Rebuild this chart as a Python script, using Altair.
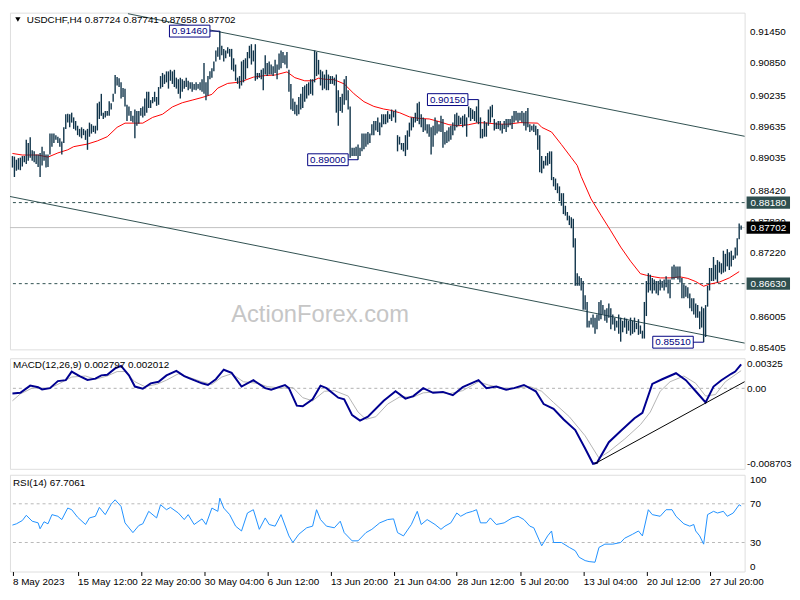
import json
import altair as alt
import pandas as pd

# ---------------- data ----------------
# H4 bars of USDCHF, values in 1/10000 of a franc (8907 -> 0.8907), bar index 0 = 8 May 2023 00:00
bar_high = [
    8907, 8906, 8900, 8903, 8904, 8907, 8907, 8938, 8932, 8943,
    8918, 8916, 8910, 8910, 8913, 8925, 8916, 8910, 8910, 8950,
    8950, 8950, 8947, 8944, 8941, 8935, 8962, 8987, 8988, 8987,
    8990, 8981, 8974, 8965, 8959, 8962, 8959, 8956, 8959, 8971,
    8968, 8965, 8965, 9008, 9011, 9026, 8990, 8993, 8993, 9012,
    9008, 9026, 9062, 9058, 9056, 9048, 9037, 9036, 9005, 9002,
    8993, 8984, 8996, 8993,
    8993, 8999, 9002, 9017, 9030, 9030, 9014, 9020, 9030, 9020,
    9039, 9060, 9066, 9063, 9069, 9069, 9072, 9069, 9072, 9057,
    9054, 9057, 9054, 9051, 9057, 9051, 9048, 9048, 9045, 9048,
    9045, 9048, 9054, 9085, 9048, 9060, 9069, 9075, 9088, 9109,
    9115, 9146, 9118, 9112, 9109, 9115, 9112, 9112, 9094, 9082,
    9057, 9060, 9088, 9091, 9094, 9106, 9118, 9121, 9109, 9121,
    9066, 9066,
    9072, 9075, 9100, 9085, 9088, 9082, 9079, 9091, 9082, 9103,
    9109, 9106, 9100, 9106, 9072, 9045, 9017, 9011, 9005, 9020,
    9026, 9039, 9042, 9045, 9048, 9054, 9054, 9109, 9106, 9091,
    9072, 9069, 9063, 9072, 9063, 9060, 9060, 9057, 9063, 9033,
    9020, 9026, 9054, 9060, 9033, 9002, 8923, 8923, 8925, 8929,
    8923, 8950, 8950, 8950, 8953, 8950, 8968, 8974, 8974, 8981,
    8971, 8987, 8987,
    8987, 8993, 8987, 8996, 8993, 8996, 8947, 8944, 8932, 8932,
    8947, 8956, 8971, 8981, 8981, 8990, 9008, 9011, 8987, 8981,
    8978, 8968, 8968, 8962, 8965, 8981, 8974, 8968, 8984, 8978,
    8953, 8956, 8962, 8965, 8971, 8987, 8990, 8984, 8981, 8984,
    8987, 8981, 9002, 8999, 8996, 8993, 9002, 9015, 8981, 8959,
    8974, 8971, 8996, 9002, 9005, 8978, 8971, 8974, 8974, 8968,
    8974, 8978,
    8978, 8978, 8984, 8993, 8993, 8990, 8990, 8993, 8990, 8993,
    8999, 8968, 8965, 8968, 8965, 8959, 8947, 8907, 8898, 8907,
    8913, 8916, 8916, 8867, 8864, 8855, 8849, 8836, 8836, 8812,
    8800, 8793, 8790, 8787, 8750, 8683, 8677, 8674, 8668, 8641,
    8628, 8592, 8598, 8604, 8598, 8604, 8628, 8631, 8622, 8613,
    8616, 8625, 8616, 8604, 8598, 8592, 8604, 8598, 8592, 8598,
    8596, 8592, 8598,
    8592, 8598, 8588, 8595, 8583, 8573, 8628, 8668, 8683, 8680,
    8674, 8671, 8668, 8668, 8671, 8668, 8671, 8677, 8671, 8671,
    8696, 8699, 8696, 8696, 8696, 8674, 8662, 8659, 8656, 8644,
    8635, 8635, 8625, 8622, 8610, 8619, 8616, 8622, 8659, 8693,
    8693, 8714, 8699, 8708, 8705, 8702, 8726, 8720, 8729, 8723,
    8726, 8717, 8732, 8750, 8778, 8774,
]
bar_low = [
    8885, 8867, 8879, 8881, 8880, 8887, 8895, 8892, 8898, 8904,
    8898, 8895, 8892, 8886, 8867, 8889, 8898, 8885, 8886, 8910,
    8925, 8932, 8938, 8932, 8925, 8910, 8932, 8959, 8971, 8962,
    8971, 8959, 8956, 8947, 8944, 8941, 8947, 8938, 8919, 8944,
    8950, 8953, 8950, 8956, 8978, 8984, 8978, 8981, 8984, 8984,
    8996, 9011, 9026, 9042, 9039, 9017, 9020, 9002, 8974, 8984,
    8974, 8971, 8941, 8965,
    8969, 8984, 8981, 8984, 8990, 8999, 8999, 9008, 9011, 9003,
    9005, 9036, 9039, 9045, 9048, 9036, 9051, 9045, 9039, 9036,
    9026, 9017, 9030, 9036, 9039, 9033, 9036, 9030, 9034, 9033,
    9036, 9033, 9030, 9026, 9014, 9023, 9054, 9057, 9069, 9088,
    9097, 9091, 9100, 9088, 9094, 9103, 9097, 9072, 9069, 9051,
    9045, 9036, 9042, 9048, 9054, 9075, 9094, 9082, 9088, 9051,
    9054, 9057,
    9054, 9033, 9063, 9060, 9063, 9063, 9060, 9066, 9054, 9072,
    9075, 9085, 9082, 9075, 9030, 8996, 8993, 8987, 8984, 8987,
    8996, 8999, 9011, 9017, 9023, 9026, 9023, 9048, 9060, 9063,
    9042, 9033, 9036, 9033, 9033, 9045, 9045, 9042, 8990, 8965,
    8993, 8990, 9005, 9014, 8996, 8904, 8907, 8907, 8907, 8900,
    8907, 8916, 8920, 8925, 8929, 8932, 8947, 8947, 8956, 8953,
    8947, 8962, 8968,
    8968, 8971, 8978, 8974, 8981, 8971, 8916, 8929, 8919, 8916,
    8907, 8919, 8944, 8956, 8962, 8971, 8974, 8968, 8962, 8953,
    8956, 8950, 8944, 8910, 8925, 8947, 8950, 8954, 8953, 8923,
    8929, 8932, 8935, 8938, 8947, 8956, 8962, 8965, 8968, 8962,
    8965, 8944, 8981, 8974, 8978, 8974, 8971, 8968, 8941, 8941,
    8944, 8944, 8965, 8971, 8981, 8956, 8959, 8959, 8956, 8950,
    8959, 8953,
    8962, 8966, 8959, 8971, 8975, 8971, 8975, 8971, 8965, 8956,
    8962, 8953, 8956, 8953, 8947, 8919, 8876, 8874, 8883, 8889,
    8889, 8892, 8861, 8849, 8842, 8836, 8821, 8812, 8796, 8793,
    8784, 8775, 8769, 8732, 8659, 8659, 8659, 8650, 8613, 8613,
    8579, 8579, 8585, 8579, 8567, 8576, 8592, 8595, 8604, 8592,
    8588, 8598, 8576, 8585, 8573, 8579, 8567, 8552, 8570, 8579,
    8567, 8573, 8564,
    8567, 8570, 8576, 8565, 8567, 8558, 8558, 8601, 8646, 8650,
    8644, 8650, 8644, 8641, 8650, 8655, 8650, 8656, 8644, 8635,
    8671, 8671, 8674, 8671, 8665, 8635, 8635, 8638, 8635, 8616,
    8610, 8604, 8598, 8598, 8576, 8579, 8551, 8561, 8619, 8650,
    8668, 8668, 8671, 8665, 8684, 8681, 8684, 8686, 8696, 8689,
    8696, 8708, 8711, 8717, 8748, 8766,
]

# red moving average (bar index, value in 1/10000)
ma_idx = [0, 5, 13, 18, 23, 28, 31, 38, 43, 48, 53, 57, 63, 66, 71, 76, 81, 86, 91, 96,
          101, 104, 109, 114, 117, 122, 128, 133, 139, 143, 148, 152, 155, 158, 163, 168,
          173, 178, 183, 188, 191, 196, 201, 206, 211, 216, 221, 226, 231, 236, 241, 246,
          251, 257, 266, 268, 273, 278, 283, 286, 288, 293, 298, 303, 308, 313, 318, 321,
          325, 328, 333, 338, 342, 346, 350, 353, 358, 363, 368]
ma_val = [8912, 8909, 8909, 8905, 8913, 8919, 8925, 8930, 8936, 8944, 8962, 8970, 8970, 8970,
          8981, 8987, 9001, 9009, 9014, 9019, 9025, 9037, 9046, 9048, 9051, 9058, 9061, 9062,
          9068, 9057, 9051, 9051, 9056, 9054, 9053, 9045, 9026, 9011, 9002, 8997, 8995, 8990,
          8982, 8979, 8978, 8973, 8967, 8965, 8967, 8971, 8970, 8968, 8968, 8971, 8970, 8962,
          8953, 8929, 8904, 8889, 8868, 8825, 8794, 8764, 8733, 8706, 8682, 8679, 8676, 8674,
          8674, 8676, 8673, 8667, 8658, 8662, 8666, 8674, 8686]

# MACD main line and signal line, values in 1/10000
macd_idx = [0, 4, 9, 13, 15, 19, 23, 27, 30, 34, 38, 42, 45, 48, 52, 55, 59, 62, 66, 70,
            74, 78, 83, 87, 90, 96, 99, 103, 107, 111, 116, 122, 128, 131, 138, 140, 144, 147,
            152, 156, 159, 165, 168, 172, 176, 180, 188, 194, 199, 203, 208, 213, 218, 223,
            228, 236, 240, 245, 250, 254, 259, 265, 269, 274, 279, 285, 290, 294, 296, 302,
            308, 315, 319, 324, 329, 336, 341, 346, 351, 355, 359, 364, 366, 369]
macd_val = [-5.6, -4.9, 2.9, 1.2, -1.2, 0.2, 7.8, 8.8, 18.1, 13.2, 9.1, 10.5, 14.0, 14.7,
            21.5, 24.3, 14.0, 1.9, -0.5, 5.4, 7.1, 14.0, 18.8, 13.2, 10.5, 5.4, 3.6, 9.8, 20.1,
            16.7, 1.9, 8.8, 0.2, -1.5, 3.6, 0.2, -18.7, -19.4, -11.8, 2.9, 0.2, -10.1, -11.8,
            -29.0, -34.8, -30.7, -13.5, -3.2, -11.1, -8.4, 0.2, -4.9, -3.9, -7.4, 1.2, 8.8, 0.2,
            1.9, -1.5, 0.2, 3.6, -3.2, -17.0, -22.1, -33.4, -45.1, -65.0, -81.6, -80.5, -58.2,
            -46.1, -32.4, -26.6, 4.7, 9.8, 16.3, 8.8, -3.2, -15.2, 1.9, 8.8, 15.7, 18.1, 26.0]
sig_idx = [0, 4, 10, 19, 24, 30, 37, 42, 48, 53, 57, 62, 67, 73, 78, 84, 89, 96, 101, 106,
           111, 117, 124, 129, 136, 142, 147, 152, 158, 163, 170, 175, 179, 184, 190, 196,
           203, 208, 214, 221, 228, 236, 241, 248, 254, 262, 268, 274, 282, 290, 297, 302,
           310, 318, 323, 328, 333, 340, 346, 351, 356, 361, 366, 369]
sig_val = [-13.5, -6.0, 0.2, 0.2, 5.4, 12.2, 13.3, 9.8, 13.3, 18.1, 18.1, 7.1, 1.9, 4.3, 8.8,
           15.7, 12.2, 7.1, 4.3, 12.2, 15.7, 7.1, 5.4, 1.9, 0.2, 0.9, -10.1, -13.5, -3.2, -2.5,
           -8.4, -25.6, -33.5, -30.7, -17.0, -9.4, -9.4, -4.9, -3.9, -6.0, -2.5, 7.1, 3.6, 0.2,
           0.2, 1.9, -3.2, -15.3, -30.7, -51.3, -75.4, -68.5, -54.8, -39.3, -25.6, -3.2, 7.1,
           13.3, 5.4, -8.4, -6.7, 7.1, 14.6, 19.1]

# RSI(14)
rsi_idx = [0, 2, 5, 7, 10, 13, 14, 16, 18, 20, 23, 25, 28, 30, 33, 37, 39, 42, 44, 47,
           50, 52, 55, 57, 61, 64, 66, 69, 73, 75, 78, 80, 84, 87, 89, 92, 96, 98, 101, 104,
           105, 107, 110, 113, 116, 119, 122, 125, 128, 130, 133, 136, 140, 142, 145, 149,
           152, 154, 156, 159, 163, 166, 168, 172, 175, 179, 182, 186, 190, 193, 195, 198,
           202, 205, 207, 210, 214, 217, 219, 222, 225, 227, 230, 233, 235, 237, 240, 242,
           245, 249, 253, 256, 259, 262, 264, 268, 271, 273, 274, 278, 282, 285, 287, 290,
           292, 295, 297, 300, 304, 308, 310, 314, 317, 319, 322, 324, 328, 331, 334, 336,
           340, 343, 345, 346, 348, 350, 352, 355, 357, 360, 362, 365, 368, 369]
rsi_val = [48.0, 49.3, 52.7, 58.1, 52.0, 50.3, 44.2, 51.4, 49.3, 58.8, 57.1, 53.7, 65.6, 63.9,
           56.1, 48.6, 55.4, 57.1, 66.3, 58.8, 69.7, 74.1, 67.3, 50.3, 40.2, 47.6, 49.3, 62.2,
           55.4, 69.0, 63.9, 66.3, 60.5, 53.7, 58.8, 48.6, 54.4, 48.6, 65.6, 62.2, 75.8, 65.6,
           58.8, 46.9, 41.9, 60.5, 63.9, 43.6, 55.4, 48.6, 46.9, 58.8, 36.8, 30.0, 38.5, 45.2,
           46.9, 63.9, 53.7, 46.9, 45.2, 52.0, 40.2, 31.7, 31.7, 40.2, 43.6, 50.3, 53.7, 54.4,
           40.2, 36.8, 48.6, 62.2, 48.6, 53.7, 48.6, 43.6, 46.9, 50.3, 60.5, 57.1, 60.5, 62.2,
           63.9, 50.3, 50.3, 55.4, 48.6, 50.3, 55.4, 57.1, 53.7, 46.9, 45.2, 26.6, 36.8, 41.9,
           30.0, 30.0, 24.9, 21.5, 14.7, 11.3, 10.3, 9.6, 24.9, 28.3, 28.3, 30.0, 34.4, 38.5,
           41.9, 36.8, 63.9, 58.8, 57.1, 63.9, 63.9, 57.1, 49.3, 46.9, 48.6, 41.9, 36.8, 28.3,
           58.8, 62.2, 60.5, 62.2, 57.1, 60.5, 69.0, 67.7]

# channel lines (start index, start price, end index, end price)
chan_i1 = [58.5, -1.25]
chan_p1 = [0.91793, 0.88297]
chan_i2 = [375.5, 375.5]
chan_p2 = [0.89413, 0.85457]
# MACD support line
macd_tl_i = [294.8, 375.5]
macd_tl_v = [-81.6, 12.7]

level_prices = [0.88180, 0.86630]
bid_price = 0.87702

ann_label = ["0.91460", "0.89000", "0.90150", "0.85510"]
ann_price = [0.91460, 0.89000, 0.90150, 0.85510]
ann_box_idx = [89.75, 159.75, 220.4, 334.5]
ann_bar_idx = [105, 175, 236, 350]

hl_label = ["0.88180", "0.87702", "0.86630"]
hl_price = [0.88180, 0.87702, 0.86630]
hl_bg = ["#2f4f4f", "#000000", "#2f4f4f"]

price_ticks = [0.91450, 0.90850, 0.90235, 0.89635, 0.89035, 0.88420, 0.87820, 0.87220,
               0.86005, 0.85405]
macd_ticks = [0.00325, 0.0, -0.008703]
macd_tick_text = ["0.00325", "0.00", "-0.008703"]
rsi_ticks = [100, 70, 30, 0]

date_idx = [0, 33, 65, 97, 129, 161, 193, 225, 257, 289, 321, 353]
date_text = ["8 May 2023", "15 May 12:00", "22 May 20:00", "30 May 04:00", "6 Jun 12:00",
             "13 Jun 20:00", "21 Jun 04:00", "28 Jun 12:00", "5 Jul 20:00", "13 Jul 04:00",
             "20 Jul 12:00", "27 Jul 20:00"]

price_title = "USDCHF,H4  0.87724 0.87741 0.87658 0.87702"
macd_title = "MACD(12,26,9) 0.002797 0.002012"
rsi_title = "RSI(14) 67.7061"
watermark = "ActionForex.com"

assert len(bar_high) == len(bar_low) == 370
assert len(ma_idx) == len(ma_val)
assert len(macd_idx) == len(macd_val) and len(sig_idx) == len(sig_val)
assert len(rsi_idx) == len(rsi_val)

# ---------------- tables ----------------
bars_df = pd.DataFrame({"idx": list(range(len(bar_high))),
                        "hi": [v / 10000 for v in bar_high],
                        "lo": [v / 10000 for v in bar_low]})
ma_df = pd.DataFrame({"idx": ma_idx, "price": [v / 10000 for v in ma_val]})
chan_df = pd.DataFrame({"i1": chan_i1, "p1": chan_p1, "i2": chan_i2, "p2": chan_p2})
lvl_df = pd.DataFrame({"price": level_prices})
bid_df = pd.DataFrame({"price": [bid_price]})
ann_df = pd.DataFrame({"label": ann_label, "price": ann_price,
                       "bi": ann_box_idx, "ti": ann_bar_idx})
hl_df = pd.DataFrame({"label": hl_label, "price": hl_price, "bg": hl_bg})
macd_df = pd.DataFrame({"idx": macd_idx, "v": [v / 10000 for v in macd_val]})
sig_df = pd.DataFrame({"idx": sig_idx, "v": [v / 10000 for v in sig_val]})
mtl_df = pd.DataFrame({"i1": [macd_tl_i[0]], "v1": [macd_tl_v[0] / 10000],
                       "i2": [macd_tl_i[1]], "v2": [macd_tl_v[1] / 10000]})
rsi_df = pd.DataFrame({"idx": rsi_idx, "v": rsi_val})
rsi_lvl_df = pd.DataFrame({"v": [70, 30]})
zero_df = pd.DataFrame({"v": [0.0]})

# ---------------- layout / style ----------------
W = 744
H_PRICE, H_MACD, H_RSI = 341, 112, 98
FONT = "Liberation Sans"
BAR = "#10344a"
SLATE = "#2f4f4f"

xscale = alt.Scale(domain=[-1.25, 370.75], nice=False, zero=False)
pscale = alt.Scale(domain=[0.85373, 0.91813], nice=False, zero=False)
mscale = alt.Scale(domain=[-0.008703, 0.00325], nice=False, zero=False)
rscale = alt.Scale(domain=[0, 100], nice=False, zero=False)


def label_expr(values, texts):
    return f"{json.dumps(texts)}[indexof({json.dumps(values)}, datum.value)]"


price_axis = alt.Axis(orient="right", values=price_ticks, format=".5f", title=None,
                      grid=False, domain=False, ticks=False, labelPadding=5,
                      labelOverlap=False)
macd_axis = alt.Axis(orient="right", values=macd_ticks,
                     labelExpr=label_expr(macd_ticks, macd_tick_text), title=None,
                     grid=False, domain=False, ticks=False, labelPadding=2,
                     labelFlush=True, labelOverlap=False)
rsi_axis = alt.Axis(orient="right", values=rsi_ticks, title=None, grid=False,
                    domain=False, ticks=False, labelPadding=5, labelFlush=True,
                    labelOverlap=False)
date_axis = alt.Axis(values=date_idx, labelExpr=label_expr(date_idx, date_text),
                     labelAlign="left", title=None, grid=False, domain=False, ticks=True,
                     tickSize=4, tickColor="#000000", labelPadding=1, labelOverlap=False,
                     labelFlush=False)


def X(f):
    return alt.X(f, type="quantitative", scale=xscale, axis=None)


def XD(f):
    return alt.X(f, type="quantitative", scale=xscale, axis=date_axis)


def PY(f):
    return alt.Y(f, type="quantitative", scale=pscale, axis=price_axis)


def MY(f):
    return alt.Y(f, type="quantitative", scale=mscale, axis=macd_axis)


def RY(f):
    return alt.Y(f, type="quantitative", scale=rscale, axis=rsi_axis)


box_path = "M-1,-0.293L1,-0.293L1,0.293L-1,0.293Z"
hl_path = "M-1,-0.28L1,-0.28L1,0.28L-1,0.28Z"

# ---------------- price panel ----------------
p_bars = alt.Chart(bars_df).mark_rule(color=BAR, strokeWidth=1.4).encode(
    x=X("idx"), y=PY("hi"), y2="lo:Q")
p_wm = alt.Chart(pd.DataFrame({"t": [watermark]})).mark_text(
    font=FONT, fontSize=24, color="#c6c6c6").encode(
    x=alt.value(314), y=alt.value(306), text="t:N")
p_lvl = alt.Chart(lvl_df).mark_rule(color=SLATE, strokeDash=[3, 3], strokeWidth=1).encode(
    y=PY("price"))
p_bid = alt.Chart(bid_df).mark_rule(color="#c0c0c0", strokeWidth=1).encode(y=PY("price"))
p_chan = alt.Chart(chan_df).mark_rule(color=SLATE, strokeWidth=1, clip=True).encode(
    x=X("i1"), x2="i2:Q", y=PY("p1"), y2="p2:Q")
p_ma = alt.Chart(ma_df).mark_line(color="#ff0000", strokeWidth=1).encode(
    x=X("idx"), y=PY("price"))
p_ann_rule = alt.Chart(ann_df).mark_rule(color="#000080", strokeWidth=1).encode(
    x=X("bi"), x2="ti:Q", y=PY("price"))
p_ann_box = alt.Chart(ann_df).mark_point(
    shape=box_path, size=41 * 41, filled=True, color="#ffffff", stroke="#000080",
    strokeWidth=1, opacity=1).encode(x=X("bi"), y=PY("price"))
p_ann_txt = alt.Chart(ann_df).mark_text(font=FONT, fontSize=10, color="#000080").encode(
    x=X("bi"), y=PY("price"), text="label:N")
p_title = alt.Chart(pd.DataFrame({"t": [price_title]})).mark_text(
    font=FONT, fontSize=10, color="#000000", align="left", baseline="middle").encode(
    x=alt.value(17), y=alt.value(7), text="t:N")
p_tri = alt.Chart(pd.DataFrame({"t": [1]})).mark_point(
    shape="triangle-down", filled=True, color="#000000", size=28, opacity=1).encode(
    x=alt.value(8), y=alt.value(7))
p_hl_box = alt.Chart(hl_df).mark_point(
    shape=hl_path, size=44 * 44, filled=True, opacity=1, strokeWidth=0).encode(
    x=alt.value(W + 24), y=PY("price"), color=alt.Color("bg:N", scale=None))
p_hl_txt = alt.Chart(hl_df).mark_text(font=FONT, fontSize=10, color="#ffffff").encode(
    x=alt.value(W + 24), y=PY("price"), text="label:N")

price_panel = alt.layer(
    p_wm, p_lvl, p_bid, p_chan, p_ma, p_bars, p_ann_rule, p_ann_box,
    p_ann_txt, p_title, p_tri, p_hl_box, p_hl_txt
).properties(width=W, height=H_PRICE)

# ---------------- MACD panel ----------------
m_zero = alt.Chart(zero_df).mark_rule(color="#b0b0b0", strokeDash=[3, 3]).encode(y=MY("v"))
m_sig = alt.Chart(sig_df).mark_line(color="#b4b4b4", strokeWidth=1).encode(
    x=X("idx"), y=MY("v"))
m_line = alt.Chart(macd_df).mark_line(color="#000090", strokeWidth=2).encode(
    x=X("idx"), y=MY("v"))
m_tl = alt.Chart(mtl_df).mark_rule(color="#000000", strokeWidth=1, clip=True).encode(
    x=X("i1"), x2="i2:Q", y=MY("v1"), y2="v2:Q")
m_title = alt.Chart(pd.DataFrame({"t": [macd_title]})).mark_text(
    font=FONT, fontSize=10, color="#000000", align="left", baseline="middle").encode(
    x=alt.value(3), y=alt.value(7), text="t:N")
macd_panel = alt.layer(m_zero, m_sig, m_line, m_tl, m_title).properties(
    width=W, height=H_MACD)

# ---------------- RSI panel ----------------
r_lvl = alt.Chart(rsi_lvl_df).mark_rule(color="#b8b8b8", strokeDash=[3, 3]).encode(
    y=RY("v"))
r_line = alt.Chart(rsi_df).mark_line(color="#1e90ff", strokeWidth=1).encode(
    x=XD("idx"), y=RY("v"))
r_title = alt.Chart(pd.DataFrame({"t": [rsi_title]})).mark_text(
    font=FONT, fontSize=10, color="#000000", align="left", baseline="middle").encode(
    x=alt.value(3), y=alt.value(8), text="t:N")
rsi_panel = alt.layer(r_lvl, r_line, r_title).properties(width=W, height=H_RSI)

chart = alt.vconcat(price_panel, macd_panel, rsi_panel, spacing=4).properties(
    padding={"left": 0, "top": 0, "right": 0, "bottom": 0}
).configure_view(stroke="#000000", strokeWidth=1).configure_axis(
    labelFont=FONT, labelFontSize=10, labelColor="#000000"
).configure(background="#ffffff")

chart.save("out.html", embed_options={"renderer": "svg", "actions": False})
